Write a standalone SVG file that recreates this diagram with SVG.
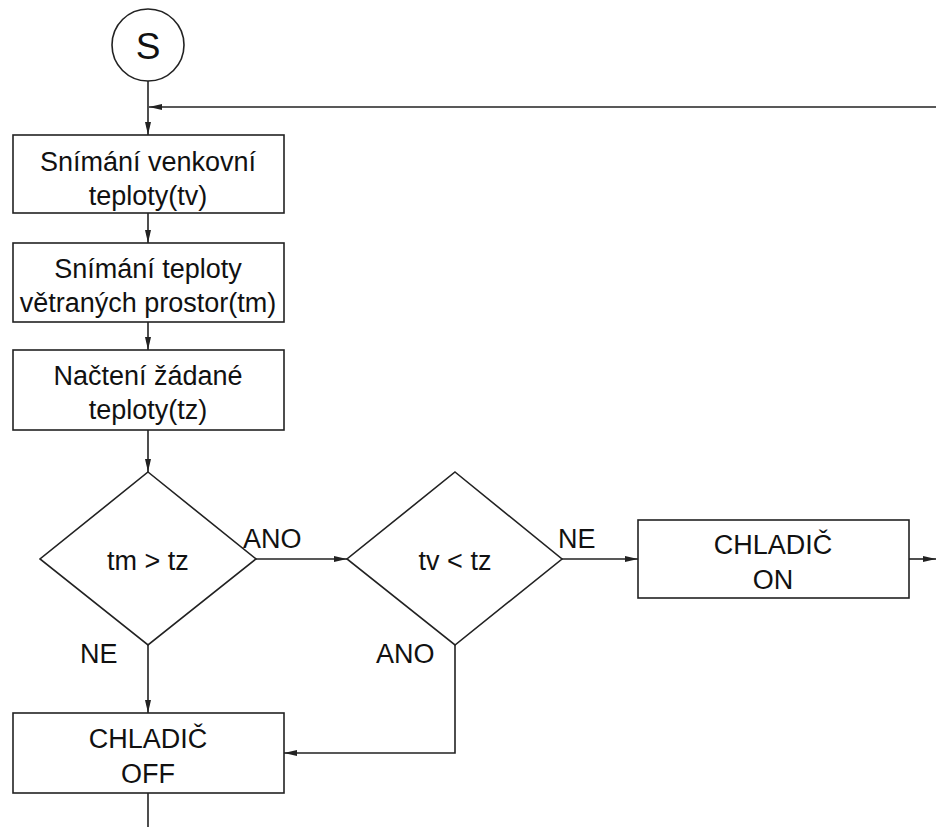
<svg xmlns="http://www.w3.org/2000/svg" width="936" height="827" viewBox="0 0 936 827">
<style>
.n{fill:#fff;stroke:#222;stroke-width:1.6}
.c{fill:none;stroke:#222;stroke-width:1.6}
text{font-family:"Liberation Sans",Arial,sans-serif;font-size:27px;fill:#111}
.m{text-anchor:middle}
.s{font-size:37px}
</style>
<defs>
<marker id="a" markerUnits="userSpaceOnUse" markerWidth="14" markerHeight="8" refX="13" refY="4" orient="auto">
<path d="M0,1 L13,4 L0,7 z" fill="#222"/>
</marker>
</defs>
<rect width="936" height="827" fill="#fff"/>
<g id="connectors">
<line class="c" x1="148" y1="81" x2="148" y2="135" marker-end="url(#a)"/>
<line class="c" x1="936" y1="107" x2="149" y2="107" marker-end="url(#a)"/>
<line class="c" x1="148" y1="213" x2="148" y2="243" marker-end="url(#a)"/>
<line class="c" x1="148" y1="322" x2="148" y2="350" marker-end="url(#a)"/>
<line class="c" x1="148" y1="430" x2="148" y2="472" marker-end="url(#a)"/>
<line class="c" x1="256" y1="559" x2="347" y2="559" marker-end="url(#a)"/>
<line class="c" x1="562" y1="559" x2="638" y2="559" marker-end="url(#a)"/>
<line class="c" x1="909" y1="559" x2="936" y2="559" marker-end="url(#a)"/>
<line class="c" x1="148" y1="645" x2="148" y2="713" marker-end="url(#a)"/>
<polyline class="c" points="455,645 455,753 284,753" marker-end="url(#a)"/>
<line class="c" x1="148" y1="793" x2="148" y2="827"/>
</g>
<g id="start">
<circle class="n" cx="148" cy="45" r="36"/>
<text class="m s" x="148" y="59">S</text>
</g>
<g id="box1">
<rect class="n" x="13" y="135" width="271" height="78"/>
<text class="m" x="148" y="171">Snímání venkovní</text>
<text class="m" x="148" y="205">teploty(tv)</text>
</g>
<g id="box2">
<rect class="n" x="13" y="243" width="271" height="79"/>
<text class="m" x="148" y="278">Snímání teploty</text>
<text class="m" x="148" y="312">větraných prostor(tm)</text>
</g>
<g id="box3">
<rect class="n" x="13" y="350" width="271" height="80"/>
<text class="m" x="148" y="385">Načtení žádané</text>
<text class="m" x="148" y="419">teploty(tz)</text>
</g>
<g id="dec1">
<polygon class="n" points="148,472 256,559 148,645 40,559"/>
<text class="m" x="148" y="570">tm &gt; tz</text>
</g>
<g id="dec2">
<polygon class="n" points="455,472 562,559 455,645 347,559"/>
<text class="m" x="455" y="570">tv &lt; tz</text>
</g>
<g id="on">
<rect class="n" x="638" y="520" width="271" height="78"/>
<text class="m" x="773" y="554">CHLADIČ</text>
<text class="m" x="773" y="589">ON</text>
</g>
<g id="off">
<rect class="n" x="13" y="713" width="271" height="80"/>
<text class="m" x="148" y="748">CHLADIČ</text>
<text class="m" x="148" y="783">OFF</text>
</g>
<g id="labels">
<text x="243" y="548">ANO</text>
<text x="558" y="548">NE</text>
<text x="80" y="663">NE</text>
<text x="376" y="663">ANO</text>
</g>
</svg>
